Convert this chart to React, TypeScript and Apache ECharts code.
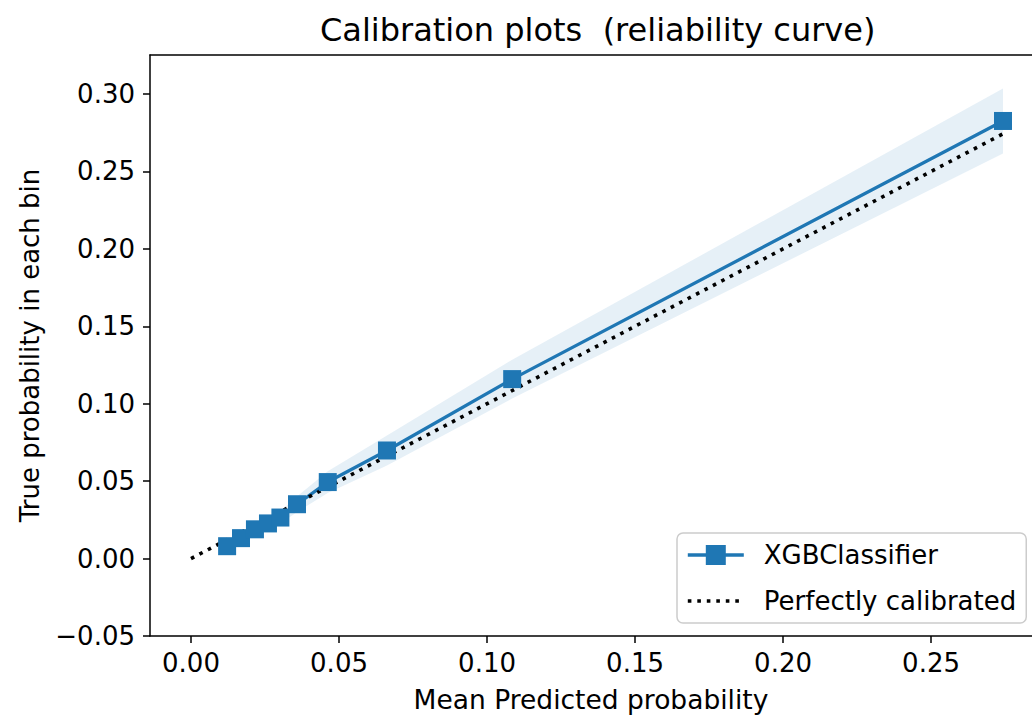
import React, { useEffect, useRef } from "react";
import * as echarts from "echarts";

const meanPredicted = [0.0122, 0.0169, 0.0216, 0.026, 0.0302, 0.0358, 0.0462, 0.0662, 0.1085, 0.2743];
const trueProbability = [0.008, 0.0132, 0.0189, 0.0227, 0.0265, 0.0351, 0.0494, 0.0698, 0.1159, 0.2826];
const bandHalfWidth = [0.002, 0.0025, 0.003, 0.0035, 0.004, 0.005, 0.007, 0.0097, 0.0125, 0.021];
const perfectLine = [
  [0, 0],
  [0.2743, 0.2743],
];
const xTicks = [0, 0.05, 0.1, 0.15, 0.2, 0.25];
const yTicks = [-0.05, 0, 0.05, 0.1, 0.15, 0.2, 0.25, 0.3];

const FONT = "DejaVu Sans";

export default function App() {
  const ref = useRef<HTMLDivElement>(null);
  useEffect(() => {
    if (!ref.current) return;
    const chart = echarts.init(ref.current, undefined, { renderer: "svg" });
    const mainData = meanPredicted.map((x, i) => [x, trueProbability[i]]);
    const bandData = meanPredicted.map((x, i) => [
      x,
      trueProbability[i] - bandHalfWidth[i],
      trueProbability[i] + bandHalfWidth[i],
    ]);
    const fmt = (v: number) => (v < 0 ? "\u2212" + Math.abs(v).toFixed(2) : v.toFixed(2));
    const axisCommon = {
      axisLine: { show: true, onZero: false, lineStyle: { color: "#000", width: 1.5 } },
      axisTick: { show: true, inside: false, length: 7, lineStyle: { color: "#000", width: 1.5 } },
      splitLine: { show: false },
    };
    chart.setOption({
      animation: false,
      title: {
        text: "Calibration plots  (reliability curve)",
        left: 320,
        top: 14,
        padding: 0,
        textStyle: { fontFamily: FONT, fontSize: 32, fontWeight: "normal", color: "#000" },
      },
      grid: { left: 150, top: 55, right: 0, bottom: 81, containLabel: false, outerBoundsMode: "none" },
      legend: {
        data: [
          { name: "XGBClassifier", lineStyle: { width: 3.3, color: "#1f77b4" } },
          {
            name: "Perfectly calibrated",
            itemStyle: { color: "rgba(0,0,0,0)", borderWidth: 0, opacity: 0 },
            lineStyle: { width: 3.6, color: "#000", type: [3.6, 5.9] },
          },
        ],
        orient: "vertical",
        left: 677,
        top: 533,
        padding: [9, 10, 9, 9],
        itemWidth: 56,
        itemHeight: 25,
        itemGap: 20,
        borderColor: "#cccccc",
        borderWidth: 1.5,
        borderRadius: 6,
        backgroundColor: "rgba(255,255,255,0.8)",
        formatter: "{a|{name}}",
        textStyle: {
          fontFamily: FONT,
          fontSize: 26,
          color: "#000",
          rich: { a: { fontFamily: FONT, fontSize: 26, color: "#000", padding: [0, 0, 0, 15] } },
        },
      },
      xAxis: [
        {
          type: "value",
          min: -0.01385,
          max: 0.2841,
          ...axisCommon,
          axisTick: { ...axisCommon.axisTick, customValues: xTicks },
          axisLabel: {
            customValues: xTicks,
            formatter: fmt,
            margin: 14,
            fontFamily: FONT,
            fontSize: 26,
            color: "#000",
          },
          name: "Mean Predicted probability",
          nameLocation: "middle",
          nameGap: 50,
          nameTextStyle: { fontFamily: FONT, fontSize: 26.5, color: "#000" },
        },
        {
          type: "value",
          position: "top",
          min: -0.01385,
          max: 0.2841,
          axisLine: { show: true, onZero: false, lineStyle: { color: "#000", width: 1.5 } },
          axisTick: { show: false },
          axisLabel: { show: false },
          splitLine: { show: false },
        },
      ],
      yAxis: {
        type: "value",
        min: -0.05,
        max: 0.3252,
        ...axisCommon,
        axisTick: { ...axisCommon.axisTick, customValues: yTicks },
        axisLabel: {
          customValues: yTicks,
          formatter: fmt,
          margin: 15,
          fontFamily: FONT,
          fontSize: 26,
          color: "#000",
        },
        name: "True probability in each bin",
        nameLocation: "middle",
        nameGap: 107,
        nameTextStyle: { fontFamily: FONT, fontSize: 26, color: "#000" },
      },
      series: [
        {
          name: "band",
          type: "custom",
          data: bandData,
          silent: true,
          encode: { x: 0, y: [1, 2] },
          renderItem: (params: any, api: any) => {
            if (params.dataIndex !== 0) return null;
            const top = bandData.map((d) => api.coord([d[0], d[2]]));
            const bottom = bandData.map((d) => api.coord([d[0], d[1]])).reverse();
            return {
              type: "polygon",
              shape: { points: top.concat(bottom) },
              style: { fill: "rgba(31,119,180,0.11)", stroke: "none" },
            };
          },
        },
        {
          name: "XGBClassifier",
          type: "line",
          data: mainData,
          symbol: "rect",
          symbolSize: 18,
          itemStyle: { color: "#1f77b4" },
          lineStyle: { color: "#1f77b4", width: 3.3 },
        },
        {
          name: "Perfectly calibrated",
          type: "line",
          data: perfectLine,
          symbol: "none",
          itemStyle: { color: "#000" },
          lineStyle: { color: "#000", width: 3.6, type: [3.6, 5.9], cap: "butt" },
        },
      ],
    });
    return () => chart.dispose();
  }, []);
  return (
    <div
      ref={ref}
      style={{ position: "fixed", left: 0, top: 0, width: 1032, height: 717, background: "#fff" }}
    />
  );
}
